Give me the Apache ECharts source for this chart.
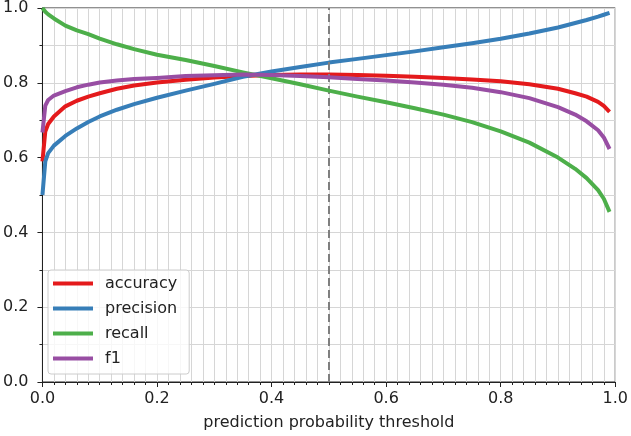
<!DOCTYPE html>
<html>
<head>
<meta charset="utf-8">
<script src="https://cdn.jsdelivr.net/npm/echarts@6/dist/echarts.min.js"></script>
<style>
html,body{margin:0;padding:0;background:#fff;}
#chart{width:631px;height:436px;}
</style>
</head>
<body>
<div id="chart"></div>
<script>
const thresholds = [0, 0.005, 0.01, 0.02, 0.04, 0.06, 0.08, 0.1, 0.13, 0.16, 0.2, 0.25, 0.3, 0.35, 0.4, 0.45, 0.5, 0.55, 0.6, 0.65, 0.7, 0.75, 0.8, 0.85, 0.9, 0.93, 0.95, 0.97, 0.98, 0.99];
const accuracy = [0.59, 0.67, 0.69, 0.71, 0.737, 0.752, 0.763, 0.772, 0.784, 0.793, 0.801, 0.808, 0.814, 0.818, 0.821, 0.822, 0.822, 0.821, 0.819, 0.816, 0.813, 0.809, 0.804, 0.796, 0.784, 0.772, 0.763, 0.749, 0.738, 0.722];
const precision = [0.50, 0.59, 0.612, 0.632, 0.658, 0.678, 0.695, 0.71, 0.728, 0.743, 0.76, 0.779, 0.797, 0.816, 0.830, 0.842, 0.854, 0.864, 0.874, 0.884, 0.895, 0.906, 0.918, 0.932, 0.948, 0.96, 0.968, 0.977, 0.982, 0.987];
const recall = [1.0, 0.99, 0.983, 0.972, 0.953, 0.94, 0.93, 0.918, 0.903, 0.89, 0.875, 0.861, 0.845, 0.828, 0.812, 0.796, 0.779, 0.763, 0.748, 0.732, 0.715, 0.695, 0.67, 0.64, 0.60, 0.57, 0.545, 0.513, 0.49, 0.455];
const f1 = [0.667, 0.739, 0.754, 0.766, 0.778, 0.788, 0.795, 0.801, 0.806, 0.810, 0.813, 0.818, 0.820, 0.822, 0.821, 0.818, 0.815, 0.810, 0.806, 0.801, 0.795, 0.787, 0.775, 0.759, 0.735, 0.715, 0.697, 0.673, 0.654, 0.623];
const seriesNames = ['accuracy', 'precision', 'recall', 'f1'];
const seriesColors = ['#e41a1c', '#377eb8', '#4daf4a', '#984ea3'];
const cutoff = 0.5;

const FONT = 'DejaVu Sans';
const chart = echarts.init(document.getElementById('chart'), null, {renderer: 'canvas'});
const values = [accuracy, precision, recall, f1];
const series = seriesNames.map((name, i) => ({
  name: name,
  type: 'line',
  showSymbol: false,
  symbol: 'none',
  z: 3 + i,
  color: seriesColors[i],
  lineStyle: {width: 4, color: seriesColors[i], join: 'round', cap: 'butt'},
  data: thresholds.map((t, j) => [t, values[i][j]])
}));
series.unshift({
  name: 'cutoff',
  type: 'line',
  data: [],
  z: 2,
  markLine: {
    silent: true,
    symbol: 'none',
    label: {show: false},
    lineStyle: {color: '#7f7f7f', width: 2, type: [8, 4]},
    data: [{xAxis: cutoff}]
  }
});

const axisCommon = {
  type: 'value',
  min: 0,
  max: 1,
  interval: 0.2,
  axisLine: {show: true, onZero: false, lineStyle: {color: '#222', width: 1}},
  axisTick: {show: true, length: 5, lineStyle: {color: '#222', width: 1}},
  splitLine: {show: true, lineStyle: {color: '#d6d6d6', width: 1}},
  minorSplitLine: {show: true, lineStyle: {color: '#d6d6d6', width: 1}},
  axisLabel: {
    color: '#222', fontFamily: FONT, fontSize: 16,
    formatter: v => v.toFixed(1)
  }
};

chart.setOption({
  animation: false,
  backgroundColor: '#fff',
  grid: {left: 40, right: 14, top: 7, bottom: 53, show: true, borderColor: '#222', borderWidth: 1, backgroundColor: 'transparent'},
  legend: {
    data: seriesNames,
    orient: 'vertical',
    left: 48,
    top: 270,
    icon: 'rect',
    itemWidth: 40,
    itemHeight: 4,
    itemGap: 8,
    padding: [5, 12, 7, 5],
    borderColor: '#cccccc',
    borderWidth: 1,
    borderRadius: 3,
    backgroundColor: 'rgba(255,255,255,0.8)',
    textStyle: {color: '#222', fontFamily: FONT, fontSize: 16, lineHeight: 17, padding: [0, 0, 0, 7]}
  },
  xAxis: Object.assign({}, axisCommon, {
    minorTick: {show: true, splitNumber: 10, length: 3, lineStyle: {color: '#222', width: 1}},
    axisLabel: Object.assign({}, axisCommon.axisLabel, {margin: 9}),
    name: 'prediction probability threshold',
    nameLocation: 'middle',
    nameGap: 33,
    nameTextStyle: {color: '#222', fontFamily: FONT, fontSize: 16}
  }),
  yAxis: Object.assign({}, axisCommon, {
    minorTick: {show: true, splitNumber: 2, length: 3, lineStyle: {color: '#222', width: 1}},
    axisLabel: Object.assign({}, axisCommon.axisLabel, {margin: 14})
  }),
  series: series
});
</script>
</body>
</html>
